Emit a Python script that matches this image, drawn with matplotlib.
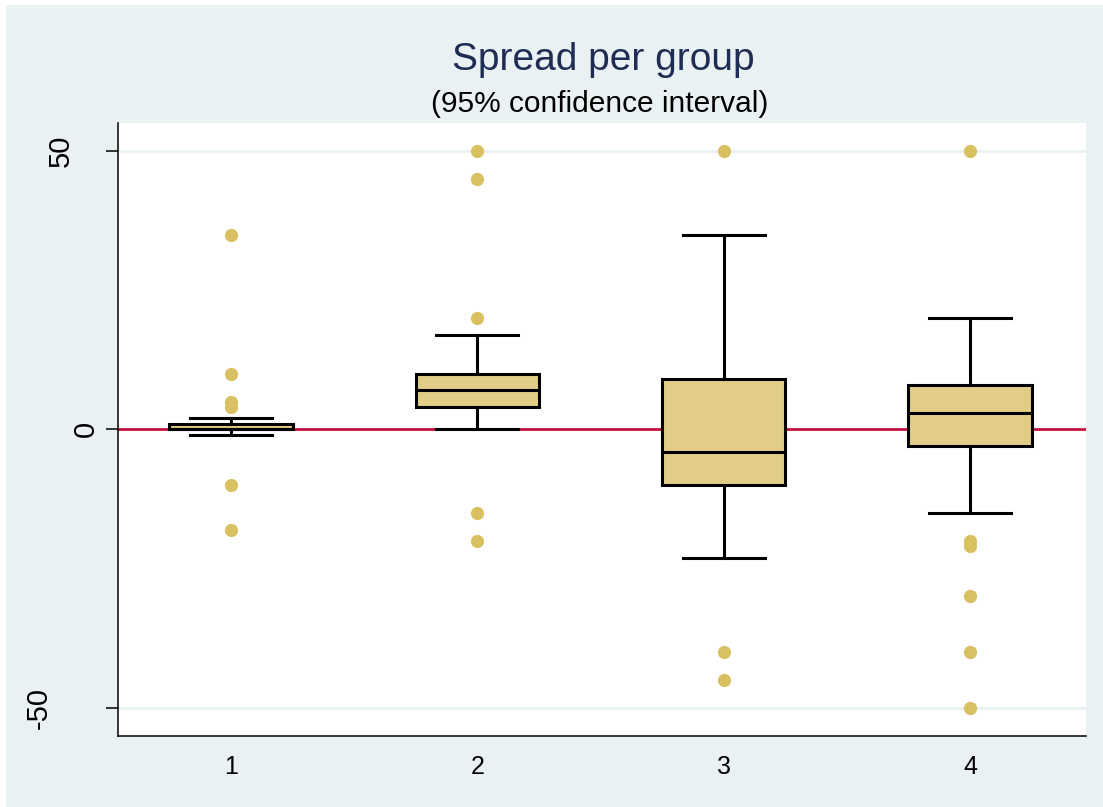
import matplotlib
matplotlib.use("Agg")
import matplotlib.pyplot as plt
from matplotlib.patches import Rectangle
from matplotlib.transforms import ScaledTranslation

plt.rcParams['font.family'] = ['Liberation Sans', 'DejaVu Sans']

# ---- data ----
groups = ["1", "2", "3", "4"]
medians = [0, 7, -4, 3]
q1s = [0, 4, -10, -3]
q3s = [1, 10, 9, 8]
whis_lo = [-1, 0, -23, -15]
whis_hi = [2, 17, 35, 20]
outliers_1 = [35, 10, 5, 4, -10, -18]
outliers_2 = [50, 45, 20, -15, -20]
outliers_3 = [50, -40, -45]
outliers_4 = [50, -20, -21, -30, -40, -50]
outliers = [outliers_1, outliers_2, outliers_3, outliers_4]
ytick_vals = [-50, 0, 50]
ytick_labels = ["-50", "0", "50"]

title = "Spread per group"
subtitle = "(95% confidence interval)"

# ---- style ----
BG = "#E9F1F3"
BOX_FILL = "#E1CD86"
DOT = "#D9C061"
RED = "#C8103C"
NAVY = "#1F2D55"

W, H = 1103, 807
fig = plt.figure(figsize=(W / 100, H / 100), dpi=100, facecolor="white")
fig.patches.append(Rectangle((6 / W, 0), 1 - 6 / W, 1 - 5 / H, transform=fig.transFigure,
                             facecolor=BG, edgecolor="none", zorder=-10))

ax = fig.add_axes([118 / W, 1 - 736 / H, (1085.5 - 118) / W, (736 - 122.7) / H])
ax.set_facecolor("white")

positions = list(range(1, len(groups) + 1))
stats = []
for i in range(len(groups)):
    stats.append(dict(med=medians[i], q1=q1s[i], q3=q3s[i],
                      whislo=whis_lo[i], whishi=whis_hi[i], fliers=outliers[i]))

ax.axhline(0, color=RED, lw=2.0, zorder=1)
for v in ytick_vals:
    if v != 0:
        ax.axhline(v, color=BG, lw=2.0, zorder=0)

ax.bxp(stats, positions=positions, widths=0.5, capwidths=0.333, patch_artist=True,
       boxprops=dict(facecolor=BOX_FILL, edgecolor="black", linewidth=2.2),
       medianprops=dict(color="black", linewidth=2.2),
       whiskerprops=dict(color="black", linewidth=2.2),
       capprops=dict(color="black", linewidth=2.2),
       flierprops=dict(marker="o", markerfacecolor=DOT, markeredgecolor=DOT,
                       markersize=8.5, linestyle="none"),
       zorder=3)

ax.set_xlim(0.541, 4.469)
ax.set_ylim(-55.05, 55.08)

ax.spines['top'].set_visible(False)
ax.spines['right'].set_visible(False)
ax.spines['left'].set_linewidth(1.1)
ax.spines['bottom'].set_linewidth(1.1)

ax.set_xticks(positions)
ax.set_xticklabels(groups, fontsize=18)
ax.tick_params(axis='x', length=0, pad=13.5)

ax.set_yticks(ytick_vals)
ax.set_yticklabels(ytick_labels, fontsize=21, rotation=90, ha='center', va='center')
ax.tick_params(axis='y', length=8.6, width=1.1, pad=0, direction='out')

# per-label horizontal offsets (px) to match reference placement
offsets_px = {"-50": -67, "0": -20, "50": -45.5}
for tick in ax.yaxis.get_major_ticks():
    lab = tick.label1
    dx = offsets_px.get(lab.get_text(), -40)
    lab.set_transform(lab.get_transform() + ScaledTranslation(dx / 100, 0, fig.dpi_scale_trans))

fig.text(603.5 / W, 1 - 70 / H, title, fontsize=28, color=NAVY, ha='center', va='baseline')
fig.text(600 / W, 1 - 112 / H, subtitle, fontsize=21.5, color="black", ha='center', va='baseline')

fig.savefig("out.png", dpi=100, facecolor=fig.get_facecolor())
